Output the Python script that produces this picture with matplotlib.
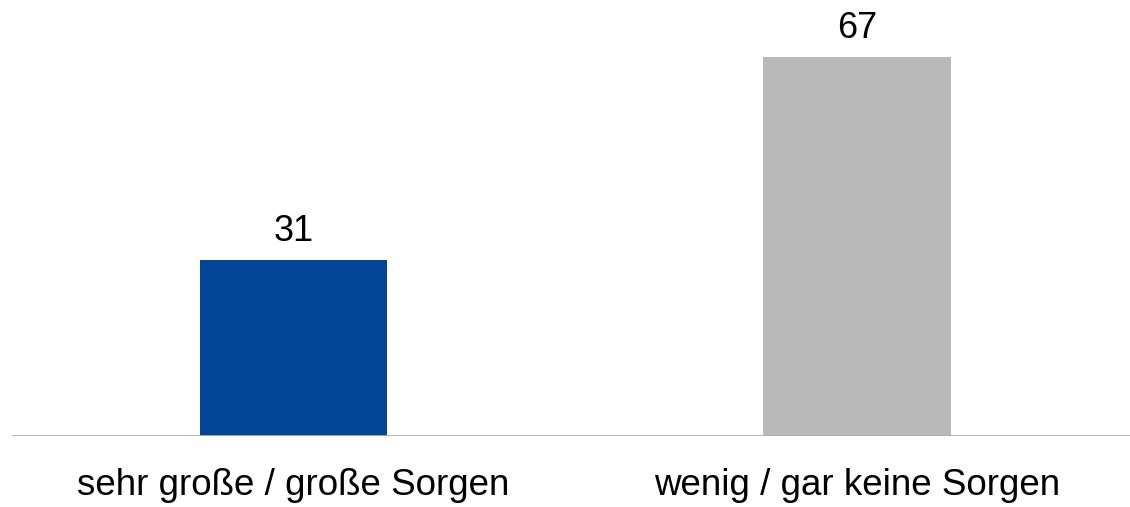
import matplotlib
matplotlib.use("Agg")
import matplotlib.pyplot as plt

categories = ["sehr große / große Sorgen", "wenig / gar keine Sorgen"]
values = [31, 67]
colors = ["#034698", "#b9b9b9"]

plt.rcParams["font.family"] = ["Liberation Sans", "DejaVu Sans"]

fig = plt.figure(figsize=(11.3, 5.07), dpi=100)
# axes in pixel terms: x 12..1130, baseline at y=436 from top
ax = fig.add_axes([12 / 1130, 71 / 507, 1118 / 1130, 436 / 507])

x_pos = list(range(len(categories)))
ax.bar(x_pos, values, width=0.332, color=colors)

ax.set_xlim(-0.4996, 1.4845)
ax.set_ylim(0, 77)

for x, v in zip(x_pos, values):
    ax.annotate(str(v), (x, v), xytext=(0, 13.7), textcoords="offset points",
                ha="center", va="baseline", fontsize=26, color="black")

for x, c in zip(x_pos, categories):
    ax.annotate(c, (x, 0), xytext=(0, -42.5), textcoords="offset points",
                ha="center", va="baseline", fontsize=26.5, color="black")

ax.axhline(0, color="#b0b0b0", linewidth=2)
for s in ax.spines.values():
    s.set_visible(False)
ax.set_xticks([])
ax.set_yticks([])

fig.savefig("out.png", dpi=100)
